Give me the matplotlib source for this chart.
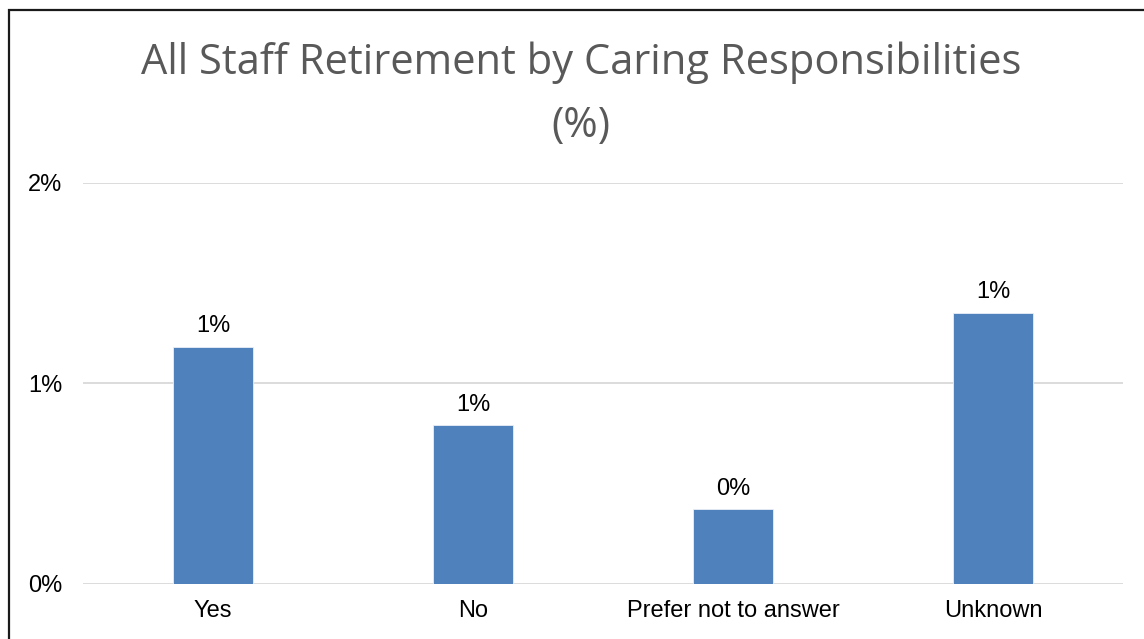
import matplotlib
matplotlib.use("Agg")
import matplotlib.pyplot as plt
from matplotlib.patches import Rectangle
from matplotlib.ticker import FuncFormatter

categories = ["Yes", "No", "Prefer not to answer", "Unknown"]
values = [1.18, 0.79, 0.37, 1.35]          # percent
y_ticks = [0, 1, 2]

fig = plt.figure(figsize=(11.44, 6.39), dpi=100)
fig.patch.set_facecolor("white")

W, H = 1144, 639
ax = fig.add_axes([83 / W, (H - 583.5) / H, (1123 - 83) / W, (583.5 - 183) / H])

x = range(len(categories))
bars = ax.bar(x, values, width=0.31, color="#4F81BD", edgecolor="#E8EEF6",
              linewidth=0.6, zorder=3)

ax.set_xlim(-0.5, len(categories) - 0.5)
ax.set_ylim(0, 2)
ax.set_yticks(y_ticks)
ax.yaxis.set_major_formatter(FuncFormatter(lambda v, p: f"{v:.0f}%"))
ax.set_xticks(list(x))
ax.set_xticklabels(categories)

ax.grid(axis="y", color="#D9D9D9", linewidth=1.3, zorder=0)
for s in ax.spines.values():
    s.set_visible(False)
ax.tick_params(axis="both", length=0, labelsize=17, labelcolor="#000000",
               labelfontfamily="Liberation Sans")
ax.tick_params(axis="y", pad=15)
ax.tick_params(axis="x", pad=12)

for rect, v in zip(bars, values):
    ax.annotate(f"{v:.0f}%", (rect.get_x() + rect.get_width() / 2, v),
                xytext=(0, 7), textcoords="offset points",
                ha="center", va="bottom", fontsize=17,
                family="Liberation Sans", color="#000000")

fig.text(581 / W, 1 - 63 / H, "All Staff Retirement by Caring Responsibilities",
         ha="center", va="center", fontsize=30, family="Open Sans", color="#595959")
fig.text(581 / W, 1 - 126 / H, "(%)",
         ha="center", va="center", fontsize=30, family="Open Sans", color="#595959")

# chart frame
fig.patches.append(Rectangle((9 / W, -0.1), 1.2, 1 - 10 / H + 0.1,
                             transform=fig.transFigure, fill=False,
                             edgecolor="#1a1a1a", linewidth=1.6))

fig.savefig("out.png", dpi=100)
